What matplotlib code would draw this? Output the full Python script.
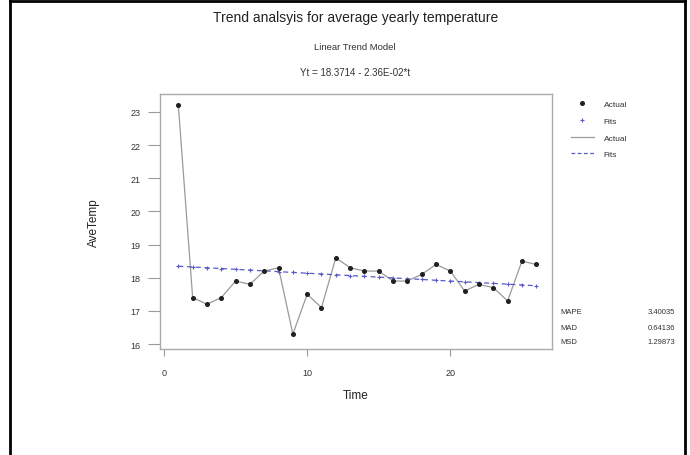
import matplotlib
matplotlib.use('Agg')
import matplotlib.pyplot as plt
from matplotlib.lines import Line2D

plt.rcParams['font.family'] = ['Liberation Sans', 'DejaVu Sans']

# data
time = list(range(1, 27))
actual = [23.2, 17.4, 17.2, 17.4, 17.9, 17.8, 18.2, 18.3, 16.3, 17.5,
          17.1, 18.6, 18.3, 18.2, 18.2, 17.9, 17.9, 18.1, 18.4, 18.2,
          17.6, 17.8, 17.7, 17.3, 18.5, 18.4]
fits = [18.348, 18.324, 18.300, 18.277, 18.253, 18.230, 18.206, 18.183,
        18.159, 18.135, 18.112, 18.088, 18.065, 18.041, 18.017, 17.994,
        17.970, 17.947, 17.923, 17.899, 17.876, 17.852, 17.829, 17.805,
        17.781, 17.758]
yticks = [16, 17, 18, 19, 20, 21, 22, 23]
xticks = [0, 10, 20]
measure_names = ['MAPE', 'MAD', 'MSD']
measure_values = ['3.40035', '0.64136', '1.29873']

grey = '#9a9a9a'
blue = '#5a5ac8'

fig = plt.figure(figsize=(6.9, 4.56), dpi=100)
ax = fig.add_axes([160 / 690, 1 - 350 / 456, 392 / 690, 255 / 456])

ax.plot(time, actual, color=grey, lw=0.9, zorder=2)
ax.plot(time, actual, ls='none', marker='o', ms=2.6, color='#202020', zorder=4)
ax.plot(time, fits, color=blue, lw=0.9, ls=(0, (4, 3)), zorder=3)
ax.plot(time, fits, ls='none', marker='+', ms=3, mew=0.8, color=blue, zorder=3)

ax.set_xlim(-0.28, 27.1)
ax.set_ylim(15.85, 23.54)
ax.set_xticks(xticks)
ax.set_yticks(yticks)
ax.tick_params(axis='y', colors=grey, length=9, width=0.8, labelsize=6.5,
               labelcolor='#333333', pad=5)
ax.tick_params(axis='x', colors=grey, length=5, width=0.8, labelsize=6.5,
               labelcolor='#333333', pad=9)
for s in ax.spines.values():
    s.set_color('#aaaaaa')
    s.set_linewidth(1.0)
ax.set_xlabel('Time', fontsize=8.5, color='#222222', labelpad=8)
ax.set_ylabel('AveTemp', fontsize=8.5, color='#222222', labelpad=22)

fig.text(356 / 690, 1 - 18 / 456, 'Trend analsyis for average yearly temperature',
         ha='center', va='center', fontsize=10, color='#222222')
fig.text(355 / 690, 1 - 48 / 456, 'Linear Trend Model',
         ha='center', va='center', fontsize=6.8, color='#333333')
fig.text(355 / 690, 1 - 73 / 456, 'Yt = 18.3714 - 2.36E-02*t',
         ha='center', va='center', fontsize=7, color='#333333')

handles = [
    Line2D([], [], ls='none', marker='o', ms=2.6, color='#202020'),
    Line2D([], [], ls='none', marker='+', ms=3, mew=0.8, color=blue),
    Line2D([], [], color=grey, lw=0.9),
    Line2D([], [], color=blue, lw=0.9, ls=(0, (3, 2))),
]
fig.legend(handles, ['Actual', 'Fits', 'Actual', 'Fits'], loc='upper left',
           bbox_to_anchor=(563 / 690, 1 - 94 / 456), frameon=False, fontsize=6,
           handlelength=2.8, labelspacing=1.05, handletextpad=1.2,
           labelcolor='#333333')

for i, (n, v) in enumerate(zip(measure_names, measure_values)):
    y = 1 - (313 + i * 15) / 456
    fig.text(560 / 690, y, n, ha='left', va='center', fontsize=5.5, color='#333333')
    fig.text(675 / 690, y, v, ha='right', va='center', fontsize=5.5, color='#333333')

# outer frame
fig.add_artist(Line2D([10 / 690, 10 / 690], [0, 1 - 2 / 456], color='black', lw=2))
fig.add_artist(Line2D([10 / 690, 685 / 690], [1 - 2 / 456, 1 - 2 / 456], color='black', lw=2))
fig.add_artist(Line2D([685 / 690, 685 / 690], [0, 1 - 2 / 456], color='black', lw=2))

fig.savefig('out.png', dpi=100)
